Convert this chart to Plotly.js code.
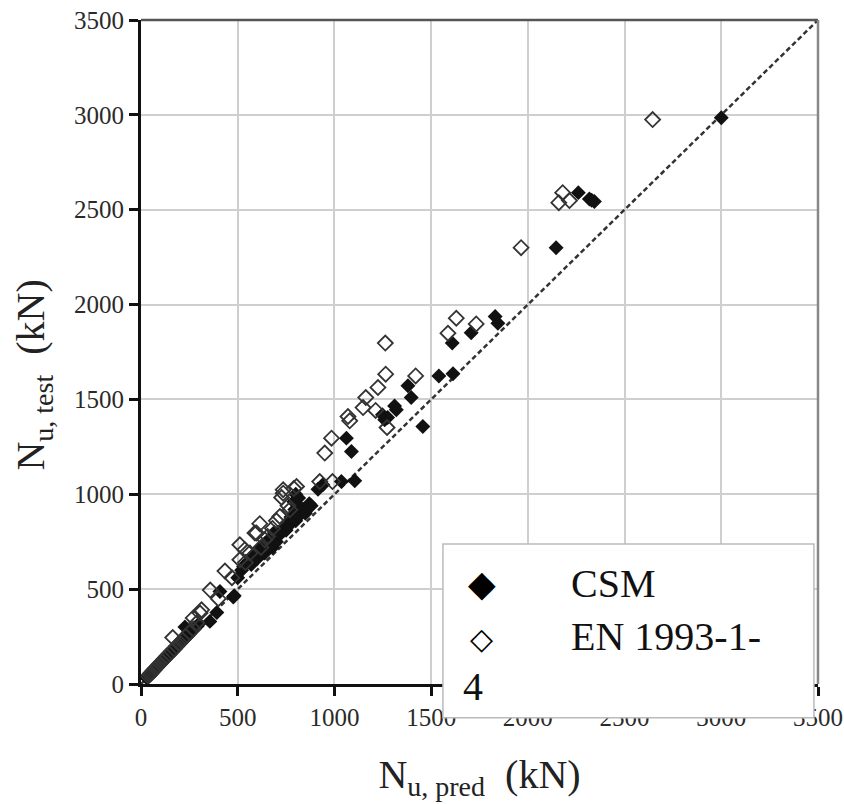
<!DOCTYPE html>
<html>
<head>
<meta charset="utf-8">
<script src="https://cdn.plot.ly/plotly-3.0.1.min.js"></script>
<style>html,body{margin:0;padding:0;background:#fff;}#chart{width:844px;height:804px;}</style>
</head>
<body>
<div id="chart"></div>
<script>
// CSM (filled diamonds)
const csmX = [30,36,40,45,50,55,60,65,70,75,80,85,90,95,100,105,110,115,120,125,130,135,140,145,150,155,160,170,175,180,190,195,200,210,215,220,227,230,240,250,260,270,280,290,300,356,392,408,477,482,
  500,520,530,546,560,570,580,597,600,610,620,630,640,640,650,660,670,680,680,690,700,700,710,720,730,740,750,755,760,770,775,780,790,790,795,800,800,805,810,815,820,830,840,850,860,870,880,
  915,940,1036,1062,1088,1105,1248,1260,1275,1311,1320,1380,1397,1457,1540,1613,1609,1707,1831,1845,2146,2261,2318,2330,2344,3000];
const csmY = [32,38,44,47,54,58,64,68,75,78,86,90,96,100,108,110,118,121,128,132,140,142,150,152,160,165,170,178,188,192,200,210,214,220,232,236,300,242,255,262,280,285,298,305,318,330,377,488,458,465,
  560,600,620,637,650,630,680,690,660,700,720,690,740,690,720,760,740,770,720,800,780,750,800,790,810,820,810,850,830,850,880,870,880,960,920,860,1000,950,900,980,890,910,920,900,930,950,940,
  1027,1050,1067,1296,1225,1071,1419,1393,1405,1466,1445,1572,1510,1357,1624,1635,1797,1852,1937,1902,2300,2590,2557,2550,2543,2985];
// EN 1993-1-4 (open diamonds)
const enX = [38,45,52,60,68,78,88,98,110,120,132,145,158,164,172,185,200,215,230,250,270,270,288,305,313,
  358,400,434,470,511,537,563,511,540,589,597,614,620,640,655,680,700,718,727,735,735,760,769,790,804,
  924,950,990,985,1070,1079,1148,1162,1213,1225,1265,1263,1272,1420,1587,1630,1733,1965,2160,2180,2215,2645];
const enY = [42,50,58,66,75,86,97,108,120,132,145,158,172,245,185,200,218,232,250,272,290,348,321,374,391,
  495,450,595,560,734,708,690,655,640,796,796,845,720,760,778,820,860,883,983,1024,1006,940,918,1030,1041,
  1067,1217,1067,1296,1410,1387,1457,1510,1442,1563,1633,1797,1352,1624,1849,1928,1898,2300,2537,2590,2548,2975];
// reference line y = x
const lineX = [0, 3500];
const lineY = [0, 3500];
const tickVals = [0,500,1000,1500,2000,2500,3000,3500];
const tickText = ['0','500','1000','1500','2000','2500','3000','3500'];
const seriesNames = ['CSM', 'EN 1993-1-4'];
const xTitle = 'N<sub>u, pred</sub>  (kN)';
const yTitle = 'N<sub>u, test</sub>  (kN)';

const SERIF = '"Liberation Serif", "Times New Roman", Times, serif';

const traces = [
  {x: lineX, y: lineY, mode: 'lines', line: {color: '#333', width: 2.5, dash: '5px,3px'}, hoverinfo: 'skip', showlegend: false},
  {x: csmX, y: csmY, mode: 'markers', name: seriesNames[0],
   marker: {symbol: 'diamond', size: 11.5, color: '#111', line: {width: 0}}},
  {x: enX, y: enY, mode: 'markers', name: seriesNames[1],
   marker: {symbol: 'diamond-open', size: 11.5, color: '#333', line: {width: 1.8, color: '#333'}}}
];

const axisCommon = {
  range: [0, 3500], tickvals: tickVals, ticktext: tickText,
  showgrid: true, gridcolor: '#cfcfcf', gridwidth: 2,
  showline: true, linecolor: '#111', linewidth: 3,
  ticks: 'outside', ticklen: 9, tickwidth: 3, tickcolor: '#111',
  tickfont: {family: SERIF, size: 25, color: '#2a2a2a'},
  zeroline: false, fixedrange: true
};

const layout = {
  width: 844, height: 804,
  margin: {l: 141, r: 26, t: 20, b: 120},
  paper_bgcolor: '#fff', plot_bgcolor: '#fff',
  showlegend: false,
  xaxis: Object.assign({}, axisCommon, {
    title: {text: xTitle, font: {family: SERIF, size: 40, color: '#222'}, standoff: 30}
  }),
  yaxis: Object.assign({}, axisCommon),
  shapes: [
    {type: 'line', xref: 'paper', yref: 'paper', x0: 0, x1: 1, y0: 1, y1: 1, line: {color: '#555', width: 2.5}},
    {type: 'line', xref: 'paper', yref: 'paper', x0: 1, x1: 1, y0: 0, y1: 1, line: {color: '#888', width: 2.5}},
    {type: 'rect', xref: 'paper', yref: 'paper', x0: 0.446, x1: 0.994, y0: -0.051, y1: 0.211,
     fillcolor: '#fff', line: {color: '#bbb', width: 1.5}, layer: 'above'}
  ],
  annotations: [
    {xref: 'paper', yref: 'paper', x: -0.159, y: 0.465, text: yTitle, textangle: -90, showarrow: false,
     font: {family: SERIF, size: 40, color: '#222'}, xanchor: 'center', yanchor: 'middle'},
    {xref: 'paper', yref: 'paper', x: 0.503, y: 0.151, text: '◆', showarrow: false, font: {family: 'DejaVu Sans', size: 36, color: '#000'}, xanchor: 'center', yanchor: 'middle'},
    {xref: 'paper', yref: 'paper', x: 0.503, y: 0.068, text: '◇', showarrow: false, font: {family: 'DejaVu Sans', size: 30, color: '#000'}, xanchor: 'center', yanchor: 'middle'},
    {xref: 'paper', yref: 'paper', x: 0.632, y: 0.152, text: seriesNames[0], showarrow: false, font: {family: SERIF, size: 40, color: '#111'}, xanchor: 'left', yanchor: 'middle'},
    {xref: 'paper', yref: 'paper', x: 0.632, y: 0.071, text: 'EN 1993-1-', showarrow: false, font: {family: SERIF, size: 40, color: '#111'}, xanchor: 'left', yanchor: 'middle'},
    {xref: 'paper', yref: 'paper', x: 0.472, y: -0.004, text: '4', showarrow: false, font: {family: SERIF, size: 40, color: '#111'}, xanchor: 'left', yanchor: 'middle'}
  ]
};

Plotly.newPlot('chart', traces, layout, {displayModeBar: false, staticPlot: true});
</script>
</body>
</html>
